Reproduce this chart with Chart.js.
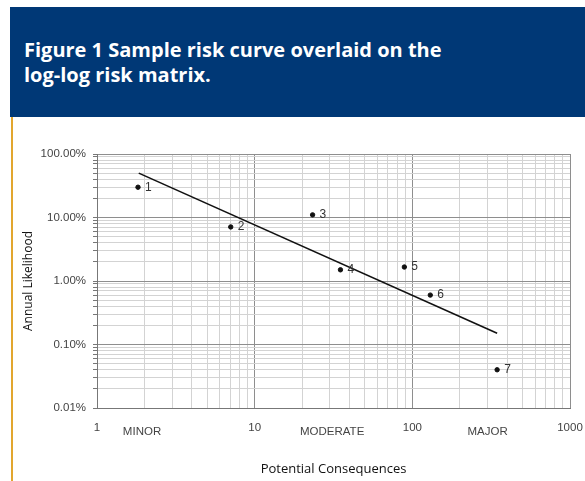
<!DOCTYPE html>
<html>
<head>
<meta charset="utf-8">
<script src="https://cdn.jsdelivr.net/npm/chart.js@4"></script>
<style>
  html, body { margin: 0; padding: 0; background: #fff; }
  body { width: 585px; height: 481px; position: relative; overflow: hidden; }
  .banner {
    position: absolute; left: 10px; top: 7px; right: 0; height: 110px;
    background: #003876; color: #fff;
    font-family: "Open Sans", sans-serif; font-weight: bold;
    font-size: 20px; line-height: 25px;
    padding: 30px 0 0 14px; box-sizing: border-box;
  }
  .rule { position: absolute; left: 11px; top: 117px; width: 2px; height: 364px; background: #e2a62e; }
  #wrap { position: absolute; left: 12px; top: 118px; width: 573px; height: 363px; }
</style>
</head>
<body>
<div class="banner">Figure 1 Sample risk curve overlaid on the<br>log-log risk matrix.</div>
<div class="rule"></div>
<div id="wrap"><canvas id="chart"></canvas></div>
<script>
// risk events: consequence (x) and annual likelihood in % (y)
const pointLabels = ['1', '2', '3', '4', '5', '6', '7'];
const consequence = [1.82, 7.05, 23.3, 35, 89, 130, 345];
const likelihood = [30, 7.1, 11, 1.5, 1.66, 0.6, 0.04];

// risk curve end points
const curveX = [1.84, 345];
const curveY = [50, 0.15];

// where the severity names sit along the consequence axis
const severityNames = ['MINOR', 'MODERATE', 'MAJOR'];
const severityAt = [1.93, 31, 300];

const isDecade = v => Math.abs(Math.log10(v) - Math.round(Math.log10(v))) < 1e-6;

// 1,2,...,9 x 10^n between min and max
const logTicks = scale => {
    const ticks = [];
    for (let e = Math.floor(Math.log10(scale.min)); e <= Math.ceil(Math.log10(scale.max)); e++) {
        for (let d = 1; d <= 9; d++) {
            const v = parseFloat((d * Math.pow(10, e)).toPrecision(6));
            if (v >= scale.min - 1e-9 && v <= scale.max + 1e-9) ticks.push({ value: v });
        }
    }
    scale.ticks = ticks;
};

const gridColor = ctx => (ctx.tick && isDecade(ctx.tick.value)) ? '#8e8e8e' : '#d3d3d3';

const labelFont = { family: '"Liberation Sans", Arial, sans-serif', size: 11.5 };

// numbers next to each event point
const pointNumbers = {
    id: 'pointNumbers',
    afterDatasetsDraw(chart) {
        const meta = chart.getDatasetMeta(1);
        const ctx = chart.ctx;
        ctx.save();
        ctx.fillStyle = '#333';
        ctx.font = '12px "Liberation Sans", Arial, sans-serif';
        ctx.textBaseline = 'middle';
        meta.data.forEach((pt, i) => {
            ctx.fillText(pointLabels[i], pt.x + 7, pt.y);
        });
        ctx.restore();
    }
};

new Chart(document.getElementById('chart'), {
    type: 'scatter',
    data: {
        datasets: [
            {
                type: 'line',
                data: curveX.map((x, i) => ({ x, y: curveY[i] })),
                borderColor: '#111',
                borderWidth: 1.6,
                pointRadius: 0,
                fill: false
            },
            {
                data: consequence.map((x, i) => ({ x, y: likelihood[i] })),
                backgroundColor: '#111',
                borderColor: '#111',
                pointRadius: 2.2
            }
        ]
    },
    options: {
        responsive: true,
        maintainAspectRatio: false,
        animation: false,
        layout: { padding: { top: 36, right: 15, left: 0, bottom: 0 } },
        plugins: { legend: { display: false }, tooltip: { enabled: false } },
        scales: {
            x: {
                type: 'logarithmic',
                min: 1, max: 1000,
                afterBuildTicks: logTicks,
                afterFit: s => { s.height = 30; s.paddingLeft = 0; s.paddingRight = 0; },
                grid: { color: gridColor, drawTicks: false },
                border: { color: '#777' },
                ticks: {
                    autoSkip: false, maxRotation: 0, padding: 13,
                    color: '#444', font: labelFont,
                    callback: v => isDecade(v) ? String(Math.round(v)) : ''
                }
            },
            x2: {
                type: 'logarithmic',
                position: 'bottom',
                min: 1, max: 1000,
                afterBuildTicks: s => { s.ticks = severityAt.map(v => ({ value: v })); },
                afterFit: s => { s.height = 43; s.paddingLeft = 0; s.paddingRight = 0; },
                grid: { display: false },
                border: { display: false },
                ticks: {
                    autoSkip: false, maxRotation: 0, mirror: true, padding: -1,
                    color: '#444', font: labelFont,
                    callback: (v, i) => severityNames[i]
                },
                title: {
                    display: true, text: 'Potential Consequences', color: '#111',
                    font: { family: '"Open Sans", sans-serif', size: 13 },
                    padding: { top: 0, bottom: 4 }
                }
            },
            y: {
                type: 'logarithmic',
                min: 0.01, max: 100,
                afterBuildTicks: logTicks,
                afterFit: s => { s.width = 85; },
                grid: { color: gridColor, tickLength: 4, tickColor: '#777' },
                border: { color: '#777' },
                ticks: {
                    autoSkip: false, padding: 7,
                    color: '#444', font: labelFont,
                    callback: v => isDecade(v) ? v.toFixed(2) + '%' : ''
                },
                title: {
                    display: true, text: 'Annual Likelihood', color: '#111',
                    font: { family: '"Open Sans", sans-serif', size: 12 },
                    padding: { top: 9, bottom: 0 }
                }
            }
        }
    },
    plugins: [pointNumbers]
});
</script>
</body>
</html>
